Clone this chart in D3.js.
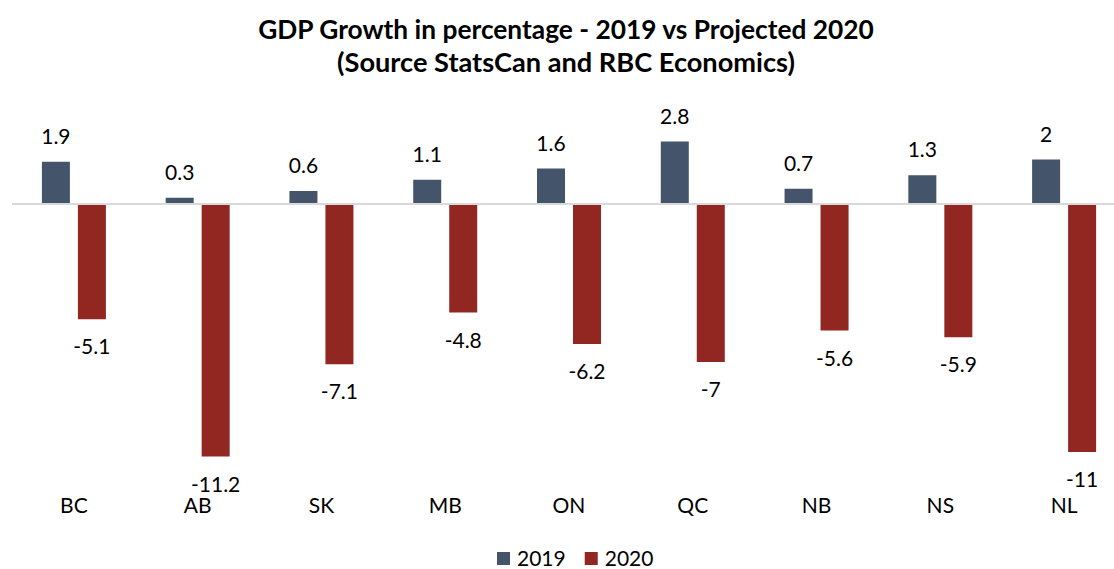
<!DOCTYPE html>
<html>
<head>
<meta charset="utf-8">
<script src="https://cdn.jsdelivr.net/npm/d3@7"></script>
<style>
  html, body { margin: 0; padding: 0; background: #fff; }
  svg { display: block; font-family: Lato, "Open Sans", sans-serif; }
</style>
</head>
<body>
<svg id="chart" width="1114" height="569"></svg>
<script>
const categories = ["BC", "AB", "SK", "MB", "ON", "QC", "NB", "NS", "NL"];
const seriesNames = ["2019", "2020"];
const values2019 = [1.9, 0.3, 0.6, 1.1, 1.6, 2.8, 0.7, 1.3, 2];
const values2020 = [-5.1, -11.2, -7.1, -4.8, -6.2, -7, -5.6, -5.9, -11];
const colors = ["#44546A", "#922620"];
const titleLines = ["GDP Growth in percentage - 2019 vs Projected 2020", "(Source StatsCan and RBC Economics)"];

const W = 1114, H = 569;
const svg = d3.select("#chart");

const data = categories.map((c, i) => ({ cat: c, vals: [values2019[i], values2020[i]] }));

const x0 = d3.scaleBand().domain(categories).range([12, 1126]).padding(0);
const bw = x0.bandwidth();
const x1 = d3.scaleBand().domain(seriesNames).range([bw / 2 - 32, bw / 2 + 32]).paddingInner(0.2222);
const y = d3.scaleLinear().domain([-12, 4]).range([474.5, 114.5]);

// Title
const title = svg.append("g").attr("font-weight", "bold").attr("fill", "#000").attr("text-anchor", "middle");
const tTargets = [616, 458];
const tBase = [39, 72];
titleLines.forEach((t, i) => {
  const el = title.append("text").attr("x", 566).attr("y", tBase[i]).attr("font-size", 26).text(t);
  const w = el.node().getComputedTextLength();
  el.attr("font-size", 26 * tTargets[i] / w);
});

// Bars
const groups = svg.append("g").selectAll("g").data(data).join("g")
  .attr("transform", d => `translate(${x0(d.cat)},0)`);

groups.selectAll("rect").data(d => d.vals.map((v, j) => ({ v, s: seriesNames[j], j })))
  .join("rect")
  .attr("x", d => x1(d.s))
  .attr("width", x1.bandwidth())
  .attr("y", d => d.v >= 0 ? y(d.v) : y(0))
  .attr("height", d => Math.abs(y(d.v) - y(0)))
  .attr("fill", d => colors[d.j]);

// Zero line
svg.append("line")
  .attr("x1", 12).attr("x2", W)
  .attr("y1", y(0) - 0.5).attr("y2", y(0) - 0.5)
  .attr("stroke", "#d9d9d9").attr("stroke-width", 2);

// Value labels
groups.selectAll("text.val").data(d => d.vals.map((v, j) => ({ v, s: seriesNames[j], j })))
  .join("text").attr("class", "val")
  .attr("x", d => x1(d.s) + x1.bandwidth() / 2)
  .attr("y", d => d.v >= 0 ? y(d.v) - 18 : y(d.v) + 35)
  .attr("text-anchor", "middle")
  .attr("font-size", 21)
  .attr("fill", "#000")
  .text(d => String(d.v));

// Category labels
svg.append("g").selectAll("text").data(categories).join("text")
  .attr("x", d => x0(d) + bw / 2)
  .attr("y", 513)
  .attr("text-anchor", "middle")
  .attr("font-size", 21)
  .attr("fill", "#000")
  .text(d => d);

// Legend
const legend = svg.append("g");
let lx = 497;
seriesNames.forEach((s, i) => {
  legend.append("rect").attr("x", lx).attr("y", 552).attr("width", 13).attr("height", 13).attr("fill", colors[i]);
  const t = legend.append("text").attr("x", lx + 20).attr("y", 566).attr("font-size", 21).attr("fill", "#000").text(s);
  lx = lx + 20 + t.node().getComputedTextLength() + 19;
});
</script>
</body>
</html>
